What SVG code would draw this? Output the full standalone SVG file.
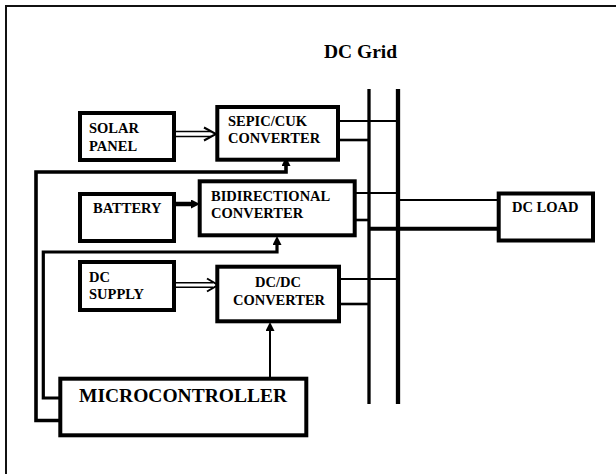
<svg xmlns="http://www.w3.org/2000/svg" width="616" height="474" viewBox="0 0 616 474">
<style>
.box{fill:#fff;stroke:#000;stroke-width:4}
.t{font-family:"Liberation Serif","Times New Roman",serif;font-weight:bold;font-size:14.5px;fill:#000}
.big{font-size:19.5px}
.ln{fill:none;stroke:#000;stroke-linecap:butt;stroke-linejoin:miter}
</style>
<defs>
<marker id="ah" viewBox="0 0 10 10" refX="0" refY="5" markerWidth="9" markerHeight="9" markerUnits="userSpaceOnUse" orient="auto">
<path d="M0,0 L10,5 L0,10 z" fill="#000"/>
</marker>
</defs>
<rect width="616" height="474" fill="#fff"/>
<path d="M6,474 V6 H616" fill="none" stroke="#111" stroke-width="2"/>
<text class="t big" x="324" y="58">DC Grid</text>

<g id="connectors">
<!-- bus lines -->
<line class="ln" x1="369" y1="89" x2="369" y2="404" stroke-width="3.3"/>
<line class="ln" x1="398" y1="89" x2="398" y2="404" stroke-width="4.3"/>
<!-- converter to bus -->
<line class="ln" x1="338" y1="121" x2="398" y2="121" stroke-width="2.2"/>
<line class="ln" x1="338" y1="140" x2="369" y2="140" stroke-width="2.6"/>
<line class="ln" x1="355" y1="193" x2="398" y2="193" stroke-width="2.2"/>
<line class="ln" x1="355" y1="220" x2="369" y2="220" stroke-width="2.6"/>
<line class="ln" x1="339" y1="279" x2="398" y2="279" stroke-width="2.2"/>
<line class="ln" x1="339" y1="304" x2="369" y2="304" stroke-width="2.6"/>
<!-- bus to load -->
<line class="ln" x1="398" y1="200" x2="499" y2="200" stroke-width="2.2"/>
<line class="ln" x1="369" y1="228.7" x2="499" y2="228.7" stroke-width="4"/>
<!-- source arrows -->
<g stroke="#000" fill="none" stroke-width="1.6">
<path d="M176,131.5 H211 M176,136.5 H211"/>
<path d="M204,127.5 L216,134 L204,140.5" stroke-width="2"/>
<path d="M176,282.7 H213 M176,287.3 H213"/>
<path d="M207,278.5 L218,285 L207,291.5" stroke-width="2"/>
</g>
<path class="ln" d="M176,204 H191" stroke-width="4.5" marker-end="url(#ah)"/>
<!-- control lines -->
<path class="ln" d="M60,420.5 H36 V172 H286 V166" stroke-width="3.6" marker-end="url(#ah)"/>
<path class="ln" d="M60,398 H43.3 V252 H277 V245" stroke-width="3.2" marker-end="url(#ah)"/>
<path class="ln" d="M270,377 V331" stroke-width="2" marker-end="url(#ah)"/>
</g>

<g id="solar">
<rect class="box" x="80" y="113" width="94" height="47"/>
<text class="t" x="89" y="133">SOLAR</text>
<text class="t" x="89" y="151">PANEL</text>
</g>
<g id="sepic">
<rect class="box" x="217.3" y="107" width="120.7" height="52.7"/>
<text class="t" x="228" y="126">SEPIC/CUK</text>
<text class="t" x="228" y="143.3">CONVERTER</text>
</g>
<g id="battery">
<rect class="box" x="80" y="194" width="94" height="47"/>
<text class="t" x="93" y="213">BATTERY</text>
</g>
<g id="bidirectional">
<rect class="box" x="199.7" y="181.3" width="155" height="54"/>
<text class="t" x="211" y="201">BIDIRECTIONAL</text>
<text class="t" x="211" y="218">CONVERTER</text>
</g>
<g id="dcsupply">
<rect class="box" x="80" y="262" width="94" height="48"/>
<text class="t" x="89" y="281.7">DC</text>
<text class="t" x="89" y="299.3">SUPPLY</text>
</g>
<g id="dcdc">
<rect class="box" x="217.3" y="266.7" width="121.7" height="54.6"/>
<text class="t" x="278" y="287" text-anchor="middle">DC/DC</text>
<text class="t" x="279" y="305" text-anchor="middle">CONVERTER</text>
</g>
<g id="microcontroller">
<rect class="box" x="60.3" y="378.7" width="246" height="56.6"/>
<text class="t big" x="79" y="402">MICROCONTROLLER</text>
</g>
<g id="dcload">
<rect class="box" x="498.7" y="193.5" width="94.3" height="47"/>
<text class="t" x="512" y="211.7">DC LOAD</text>
</g>
</svg>
